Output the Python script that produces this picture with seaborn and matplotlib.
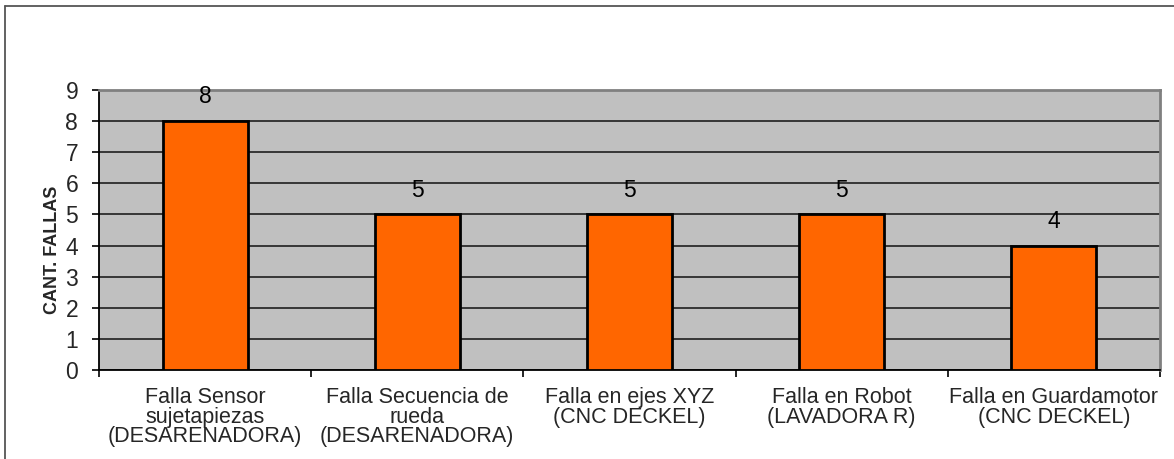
import matplotlib
matplotlib.use("Agg")
import matplotlib.pyplot as plt
import seaborn as sns
import pandas as pd
from matplotlib.lines import Line2D

categories = [
    "Falla Sensor\nsujetapiezas\n(DESARENADORA)",
    "Falla Secuencia de\nrueda\n(DESARENADORA)",
    "Falla en ejes XYZ\n(CNC DECKEL)",
    "Falla en Robot\n(LAVADORA R)",
    "Falla en Guardamotor\n(CNC DECKEL)",
]
fallas = [8, 5, 5, 5, 4]
y_ticks = [0, 1, 2, 3, 4, 5, 6, 7, 8, 9]
y_label = "CANT. FALLAS"

sns.set_theme(style="white")
plt.rcParams["font.family"] = ["Liberation Sans", "DejaVu Sans"]

df = pd.DataFrame({"falla": categories, "cantidad": fallas})

fig = plt.figure(figsize=(11.74, 4.59), dpi=100)
ax = fig.add_axes([99 / 1174, 1 - 370 / 459, (1160 - 99) / 1174, (370 - 90) / 459])
ax.set_facecolor("#C0C0C0")

sns.barplot(data=df, x="falla", y="cantidad", color="#FF6600", width=0.4,
            edgecolor="black", linewidth=2, saturation=1, ax=ax, zorder=3)

ax.set_ylim(0, 9)
ax.set_xlim(-0.5, len(categories) - 0.5)
ax.set_yticks(y_ticks)
ax.set_yticklabels([str(t) for t in y_ticks], fontsize=16.5)
ax.yaxis.grid(True, color="#2b2b2b", linewidth=1.3, zorder=1)
ax.xaxis.grid(False)
ax.set_axisbelow(True)

# category labels centred, ticks between categories
ax.set_xticks(range(len(categories)))
ax.set_xticklabels(categories, fontsize=15.5, linespacing=0.93)
ax.tick_params(axis="x", which="major", length=0, pad=12)
ax.set_xticks([i - 0.5 for i in range(len(categories) + 1)], minor=True)
ax.tick_params(axis="x", which="minor", length=5, width=1.2, color="black",
               direction="out", bottom=True)
ax.tick_params(axis="y", length=5, width=1.2, color="black", direction="out",
               left=True, pad=10)

ax.set_xlabel("")
ax.set_ylabel(y_label, fontsize=13, fontweight="bold")
ax.yaxis.set_label_coords(-0.036, 0.43)

for spine in ("left", "bottom"):
    ax.spines[spine].set_color("black")
    ax.spines[spine].set_linewidth(1.3)
for spine in ("top", "right"):
    ax.spines[spine].set_color("#808080")
    ax.spines[spine].set_linewidth(2)

# value labels above each bar
for i, v in enumerate(fallas):
    ax.annotate(str(v), (i, v), xytext=(0, 17.5), textcoords="offset points",
                ha="center", va="center", fontsize=16.5, color="black")

# chart area border
fig.add_artist(Line2D([5 / 1174, 5 / 1174], [0, 1 - 6 / 459],
                      transform=fig.transFigure, color="#555555", linewidth=1.3))
fig.add_artist(Line2D([5 / 1174, 1], [1 - 6 / 459, 1 - 6 / 459],
                      transform=fig.transFigure, color="#555555", linewidth=1.3))

fig.savefig("out.png", dpi=100, facecolor="white")
